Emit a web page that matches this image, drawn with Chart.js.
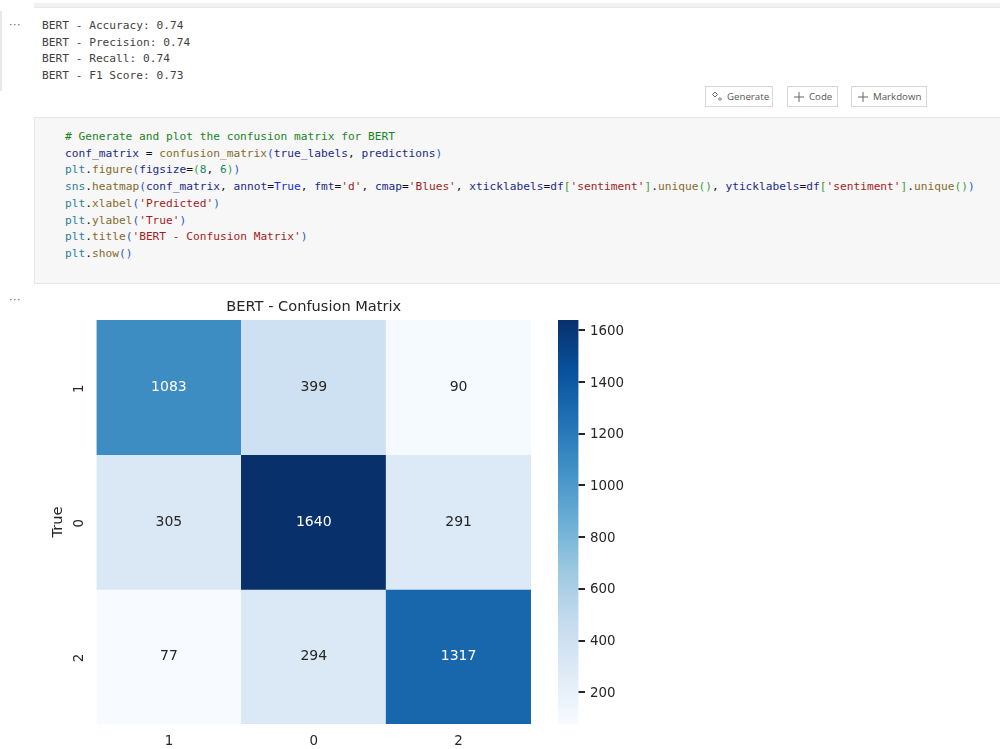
<!DOCTYPE html>
<html>
<head>
<meta charset="utf-8">
<title>BERT - Confusion Matrix</title>
<script src="https://cdn.jsdelivr.net/npm/chart.js@4"></script>
<style>
  html, body { margin: 0; padding: 0; background: #fff; overflow: hidden; }
  body { width: 1000px; height: 749px; position: relative; font-family: "DejaVu Sans Mono", monospace; }
  .abs { position: absolute; }
  .topband { left: 34px; right: 0; top: 3px; height: 4px; background: #f1f1f1; border-bottom: 1px solid #e6e6e6; }
  .gutter { left: 0; top: 11px; width: 2px; height: 80px; background: #e8e8e8; }
  .dots { left: 9px; font: 11px "DejaVu Sans", sans-serif; color: #666; letter-spacing: 0.5px; }
  .line { white-space: pre; font-size: 11.2px; line-height: 16.7px; height: 16.7px; }
  .out { left: 42px; color: #3f3f3f; }
  .cell { left: 34px; right: -2px; top: 117px; height: 165px; background: #f7f7f7; border: 1px solid #e6e6e6; }
  .code { left: 65px; color: #111; }
  .btn { top: 86px; height: 19px; border: 1px solid #d6d6d6; background: #fff; font: 9.7px/20px "Open Sans", sans-serif; color: #555; box-sizing: content-box; }
  .btn svg { position: absolute; left: 4px; top: 3px; }
  .btn span { position: absolute; top: 0; }
  .c { color: #17851f; } .v { color: #1b2a86; } .f { color: #856a2c; } .s { color: #a31c1c; }
  .n { color: #188a6a; } .m { color: #2a8199; } .y { color: #2a55c8; } .g { color: #3c9a3c; } .k { color: #1030d0; }
  canvas { position: absolute; display: block; }
</style>
</head>
<body>
<div class="abs topband"></div>
<div class="abs gutter"></div>
<div class="abs dots" style="top:18px">···</div>
<div class="abs dots" style="top:293px">···</div>

<div class="abs line out" style="top:18px">BERT - Accuracy: 0.74</div>
<div class="abs line out" style="top:34.5px">BERT - Precision: 0.74</div>
<div class="abs line out" style="top:51px">BERT - Recall: 0.74</div>
<div class="abs line out" style="top:67.5px">BERT - F1 Score: 0.73</div>

<div class="abs btn" style="left:705px;width:66px">
  <svg width="14" height="14" viewBox="0 0 14 14" fill="none" stroke="#666" stroke-width="1"><path d="M5 2 L7.5 4.5 L5 7 L2.5 4.5 Z"/><path d="M10 7.5 L11.5 9 L10 10.5 L8.5 9 Z"/></svg>
  <span style="left:21px">Generate</span>
</div>
<div class="abs btn" style="left:787px;width:48.5px">
  <svg width="14" height="14" viewBox="0 0 14 14" fill="none" stroke="#666" stroke-width="1"><path d="M7 2 V12 M2 7 H12"/></svg>
  <span style="left:21px">Code</span>
</div>
<div class="abs btn" style="left:851px;width:74px">
  <svg width="14" height="14" viewBox="0 0 14 14" fill="none" stroke="#666" stroke-width="1"><path d="M7 2 V12 M2 7 H12"/></svg>
  <span style="left:21px">Markdown</span>
</div>

<div class="abs cell"></div>
<div class="abs line code" style="top:129px"><span class="c"># Generate and plot the confusion matrix for BERT</span></div>
<div class="abs line code" style="top:145.7px"><span class="v">conf_matrix</span> = <span class="f">confusion_matrix</span><span class="y">(</span><span class="v">true_labels</span>, <span class="v">predictions</span><span class="y">)</span></div>
<div class="abs line code" style="top:162.4px"><span class="m">plt</span>.<span class="f">figure</span><span class="y">(</span><span class="v">figsize</span>=<span class="g">(</span><span class="n">8</span>, <span class="n">6</span><span class="g">)</span><span class="y">)</span></div>
<div class="abs line code" style="top:179.1px"><span class="m">sns</span>.<span class="f">heatmap</span><span class="y">(</span><span class="v">conf_matrix</span>, <span class="v">annot</span>=<span class="k">True</span>, <span class="v">fmt</span>=<span class="s">'d'</span>, <span class="v">cmap</span>=<span class="s">'Blues'</span>, <span class="v">xticklabels</span>=<span class="v">df</span><span class="g">[</span><span class="s">'sentiment'</span><span class="g">]</span>.<span class="f">unique</span><span class="g">()</span>, <span class="v">yticklabels</span>=<span class="v">df</span><span class="g">[</span><span class="s">'sentiment'</span><span class="g">]</span>.<span class="f">unique</span><span class="g">()</span><span class="y">)</span></div>
<div class="abs line code" style="top:195.8px"><span class="m">plt</span>.<span class="f">xlabel</span><span class="y">(</span><span class="s">'Predicted'</span><span class="y">)</span></div>
<div class="abs line code" style="top:212.5px"><span class="m">plt</span>.<span class="f">ylabel</span><span class="y">(</span><span class="s">'True'</span><span class="y">)</span></div>
<div class="abs line code" style="top:229.2px"><span class="m">plt</span>.<span class="f">title</span><span class="y">(</span><span class="s">'BERT - Confusion Matrix'</span><span class="y">)</span></div>
<div class="abs line code" style="top:245.9px"><span class="m">plt</span>.<span class="f">show</span><span class="y">()</span></div>

<canvas id="heatmap" width="520" height="454" style="left:30px;top:295px"></canvas>
<canvas id="colorbar" width="110" height="454" style="left:540px;top:295px"></canvas>

<script>
// Confusion matrix counts, rows are true labels and columns are predictions
const classLabels = ['1', '0', '2'];
const row1 = [1083, 399, 90];
const row0 = [305, 1640, 291];
const row2 = [77, 294, 1317];
const matrixRows = [row1, row0, row2];
const colorbarTicks = [200, 400, 600, 800, 1000, 1200, 1400, 1600];
const chartTitle = 'BERT - Confusion Matrix';
const yAxisTitle = 'True';

// Matplotlib "Blues" colormap stops
const blues = ['#f7fbff', '#deebf7', '#c6dbef', '#9ecae1', '#6baed6', '#4292c6', '#2171b5', '#08519c', '#08306b'];

const allCounts = matrixRows.flat();
const vMin = Math.min(...allCounts);
const vMax = Math.max(...allCounts);

function hexToRgb(h) {
  return [1, 3, 5].map(i => parseInt(h.slice(i, i + 2), 16));
}
function bluesColor(t) {
  const p = Math.max(0, Math.min(1, t)) * (blues.length - 1);
  const i = Math.min(Math.floor(p), blues.length - 2);
  const a = hexToRgb(blues[i]), b = hexToRgb(blues[i + 1]);
  const c = a.map((x, k) => Math.round(x + (b[k] - x) * (p - i)));
  return `rgb(${c[0]},${c[1]},${c[2]})`;
}
const norm = v => (v - vMin) / (vMax - vMin);
const INK = '#262626';
const SANS = '"DejaVu Sans", sans-serif';

// Writes each count in the middle of its cell, white on the darker cells
const cellAnnotations = {
  id: 'cellAnnotations',
  afterDatasetsDraw(chart) {
    const ctx = chart.ctx;
    ctx.save();
    ctx.font = '14px ' + SANS;
    ctx.textAlign = 'center';
    ctx.textBaseline = 'middle';
    chart.data.datasets.forEach((ds, r) => {
      chart.getDatasetMeta(r).data.forEach((bar, c) => {
        const v = matrixRows[r][c];
        const p = bar.getProps(['x', 'y', 'base'], true);
        ctx.fillStyle = norm(v) > 0.5 ? '#ffffff' : INK;
        ctx.fillText(String(v), p.x, (p.y + p.base) / 2);
      });
    });
    ctx.restore();
  }
};

// Short tick marks on the outer edge of the colour scale
const colorbarTickMarks = {
  id: 'colorbarTickMarks',
  afterDraw(chart) {
    const scale = chart.scales.y;
    const ctx = chart.ctx;
    ctx.save();
    ctx.strokeStyle = INK;
    ctx.lineWidth = 2;
    ctx.beginPath();
    scale.ticks.forEach(tick => {
      const y = Math.round(scale.getPixelForValue(tick.value));
      ctx.moveTo(chart.chartArea.right, y);
      ctx.lineTo(chart.chartArea.right + 6.5, y);
    });
    ctx.stroke();
    ctx.restore();
  }
};

new Chart(document.getElementById('heatmap'), {
  type: 'bar',
  data: {
    labels: classLabels,
    datasets: matrixRows.map((row, r) => ({
      label: classLabels[r],
      data: row.map(() => [r, r + 1]),
      backgroundColor: row.map(v => bluesColor(norm(v))),
      borderWidth: 0,
      barPercentage: 1,
      categoryPercentage: 1
    }))
  },
  plugins: [cellAnnotations],
  options: {
    responsive: false,
    animation: false,
    layout: { padding: { left: 0, right: 19, top: 0, bottom: 0 } },
    plugins: {
      legend: { display: false },
      tooltip: { enabled: false },
      title: {
        display: true,
        text: chartTitle,
        fullSize: false,
        color: INK,
        font: { family: SANS, size: 14.6, weight: 'normal' },
        padding: { top: 3.5, bottom: 4 }
      }
    },
    scales: {
      x: {
        stacked: true,
        grid: { display: false, drawTicks: false },
        border: { display: false },
        ticks: { color: INK, font: { family: SANS, size: 13.4 }, padding: 10, maxRotation: 0, minRotation: 0 },
        afterFit(scale) { scale.height = 25; }
      },
      y: {
        min: 0,
        max: 3,
        reverse: true,
        grid: { display: false, drawTicks: false },
        border: { display: false },
        title: { display: true, text: yAxisTitle, color: INK, font: { family: SANS, size: 14.6 }, padding: { top: 19, bottom: 0 } },
        afterBuildTicks(scale) {
          scale.ticks = classLabels.map((_, i) => ({ value: i + 0.5 }));
        },
        ticks: {
          color: INK,
          font: { family: SANS, size: 13.4 },
          padding: 17,
          labelOffset: -3,
          minRotation: 90,
          maxRotation: 90,
          callback(value) { return classLabels[Math.floor(value)]; }
        },
        afterFit(scale) { scale.width = 66.5; }
      }
    }
  }
});

// Colour scale beside the heatmap, one bar spanning the data range
new Chart(document.getElementById('colorbar'), {
  type: 'bar',
  data: {
    labels: [''],
    datasets: [{
      data: [[vMin, vMax]],
      borderWidth: 0,
      barPercentage: 1,
      categoryPercentage: 1,
      backgroundColor(context) {
        const { chart } = context;
        const area = chart.chartArea;
        if (!area) return blues[4];
        const g = chart.ctx.createLinearGradient(0, area.bottom, 0, area.top);
        blues.forEach((c, i) => g.addColorStop(i / (blues.length - 1), c));
        return g;
      }
    }]
  },
  plugins: [colorbarTickMarks],
  options: {
    responsive: false,
    animation: false,
    layout: { padding: { left: 18, right: 0, top: 25, bottom: 25 } },
    plugins: { legend: { display: false }, tooltip: { enabled: false } },
    scales: {
      x: { display: false },
      y: {
        position: 'right',
        min: vMin,
        max: vMax,
        afterBuildTicks(scale) {
          scale.ticks = colorbarTicks.map(value => ({ value }));
        },
        border: { display: false },
        grid: { display: false, drawTicks: false },
        ticks: { color: INK, font: { family: SANS, size: 13.4 }, padding: 11.5, labelOffset: 1, callback: v => String(v) },
        afterFit(scale) { scale.width = 71.5; }
      }
    }
  }
});
</script>
</body>
</html>
